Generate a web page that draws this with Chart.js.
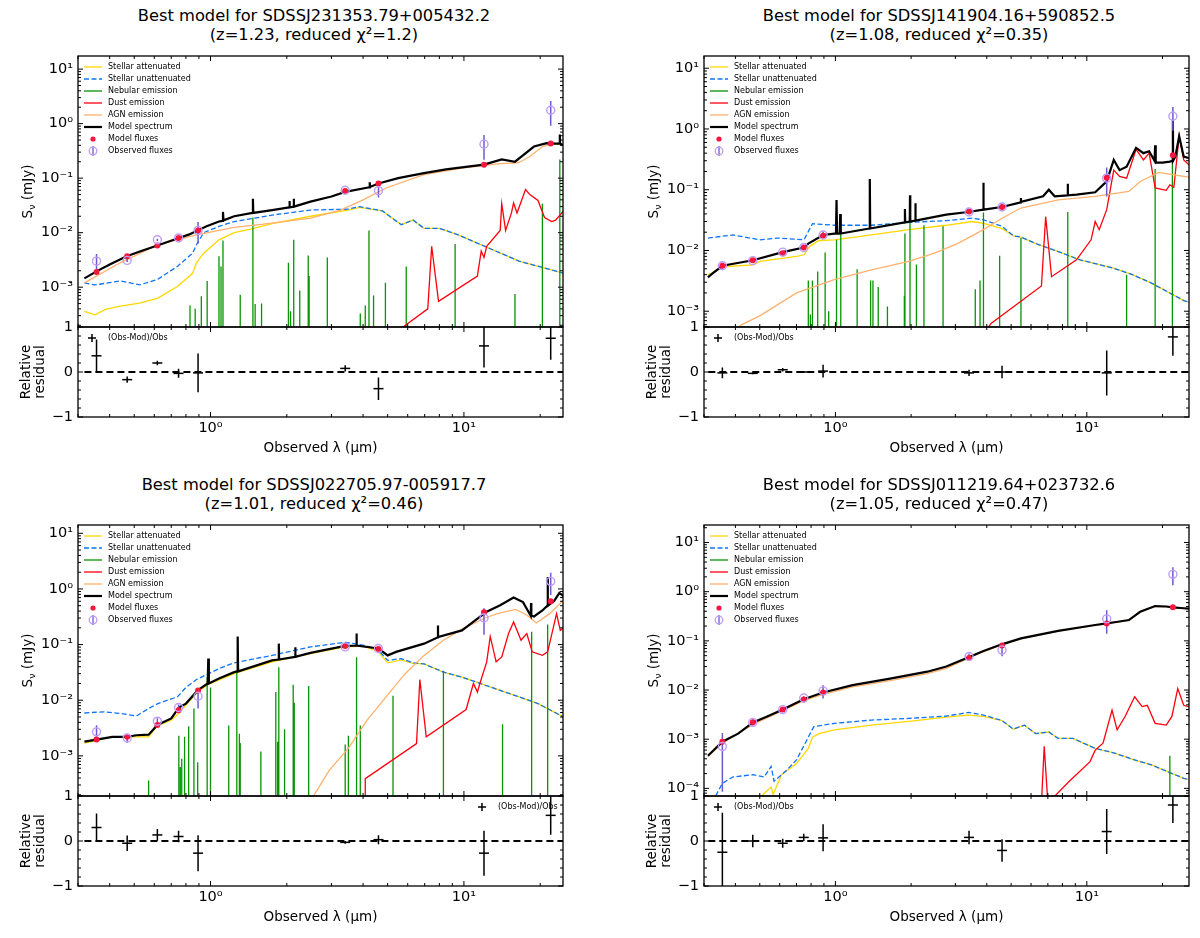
<!DOCTYPE html>
<html lang="en">
<head>
<meta charset="UTF-8" />
<title>Best-fit SEDs</title>
<script src="https://cdn.jsdelivr.net/npm/chart.js"></script>
<style>
  body { margin: 0; background: #fff; font-family: "DejaVu Sans", sans-serif; }
  #fig { position: relative; width: 1200px; height: 938px; overflow: hidden; background: #fff; }
  canvas { position: absolute; }
  .title { position: absolute; width: 600px; text-align: center; font-size: 16.3px; line-height: 18.5px; color: #000; white-space: nowrap; }
</style>
</head>
<body>
<div id="fig"></div>
<script>
// photometric bands (micron): u g r i z W1 W2 W3 W4
const bandLam = [0.355, 0.469, 0.617, 0.748, 0.893, 3.4, 4.6, 12, 22];
const componentLabels = ['Stellar attenuated', 'Stellar unattenuated', 'Nebular emission', 'Dust emission',
  'AGN emission', 'Model spectrum', 'Model fluxes', 'Observed fluxes'];

// ---- A: top left ----
const A_title = ['Best model for SDSSJ231353.79+005432.2', '(z=1.23, reduced χ²=1.2)'];
const A_xLim = [0.318, 24.6];
const A_yLim = [1.86e-4, 17.4];
const A_obs = [3.0e-3, 3.1e-3, 7.4e-3, 8.0e-3, 1.1e-2, 0.060, 0.059, 0.42, 1.76];
const A_mod = [1.9e-3, 3.7e-3, 5.8e-3, 8.0e-3, 1.1e-2, 0.058, 0.080, 0.177, 0.43];
const A_res = [0.36, -0.17, 0.20, -0.03, -0.02, 0.08, -0.37, 0.58, 0.75];
const A_relErr = [0.36, 0.07, 0.05, 0.10, 0.43, 0.07, 0.25, 0.48, 0.48];
const A_attenuated = [[0.318,3.6e-4],[0.35,3.1e-4],[0.385,3.9e-4],[0.44,4.5e-4],[0.525,5.1e-4],[0.62,6.3e-4],[0.74,1.03e-3],[0.85,1.8e-3],[0.88,2.8e-3],[0.94,4.2e-3],[1.08,7.4e-3],[1.24,1.0e-2],[1.48,1.2e-2],[1.75,1.46e-2],[2.48,2.0e-2],[3.49,2.6e-2],[3.88,2.9e-2],[4.77,2.5e-2],[5.66,1.4e-2],[6.3,1.7e-2],[6.96,1.2e-2],[8.0,1.2e-2],[9.5,9.1e-3],[12.1,5.6e-3],[16.5,3.0e-3],[21.2,2.2e-3],[24.7,1.8e-3]];
const A_unattenuated = [[0.318,1.2e-3],[0.35,1.1e-3],[0.44,1.3e-3],[0.525,1.1e-3],[0.62,1.4e-3],[0.74,2.4e-3],[0.85,4.2e-3],[0.88,6.0e-3],[0.94,1.0e-2],[1.08,1.3e-2],[1.24,1.6e-2],[1.75,2.1e-2],[2.48,2.6e-2],[3.49,2.7e-2],[3.88,3.0e-2],[4.77,2.5e-2],[5.66,1.4e-2],[6.3,1.7e-2],[6.96,1.2e-2],[8.0,1.2e-2],[9.5,9.1e-3],[12.1,5.6e-3],[16.5,3.0e-3],[21.2,2.2e-3],[24.7,1.8e-3]];
const A_nebular = [[0.83,4.6e-4],[0.87,4.0e-4],[0.92,6.8e-4],[0.97,1.3e-3],[1.08,3.7e-3],[1.10,2.4e-3],[1.12,7.2e-3],[1.31,7.3e-4],[1.47,1.9e-2],[1.50,4.9e-4],[1.59,5.0e-4],[2.03,2.8e-3],[2.07,3.6e-4],[2.13,7.4e-3],[2.25,8.7e-4],[2.43,3.8e-3],[2.45,1.6e-3],[2.89,3.5e-3],[3.9,3.3e-4],[4.08,4.6e-4],[4.22,1.1e-2],[4.4,7.0e-4],[4.9,1.2e-3],[5.92,2.4e-3],[9.23,6.2e-3],[15.9,7.5e-4],[20.4,3.4e-2],[23.9,2.2e-1]];
const A_dust = [[5.4,1.5e-4],[7.2,4.0e-4],[7.46,5.6e-3],[7.94,5.5e-4],[11.3,1.6e-3],[11.7,4.6e-3],[12.0,3.5e-3],[12.3,5.6e-3],[13.9,1.1e-2],[14.1,3.4e-2],[14.6,1.1e-2],[15.4,2.3e-2],[15.7,3.5e-2],[16.2,2.3e-2],[17.5,6.2e-2],[18.2,5.0e-2],[19.6,3.9e-2],[20.8,1.9e-2],[22.2,1.6e-2],[23.0,1.7e-2],[24.7,2.5e-2]];
const A_agn = [[0.318,1.2e-3],[0.44,2.8e-3],[0.62,6.0e-3],[0.88,9.1e-3],[1.24,1.25e-2],[1.75,1.5e-2],[2.48,1.85e-2],[3.26,2.6e-2],[4.0,4.0e-2],[4.93,6.6e-2],[6.96,1.16e-1],[9.82,1.53e-1],[13.9,1.85e-1],[16.4,1.9e-1],[18.2,2.5e-1],[20.4,3.8e-1],[22.5,4.4e-1],[24.7,4.0e-1]];
const A_model = [[0.318,1.45e-3],[0.355,1.95e-3],[0.40,2.6e-3],[0.467,3.7e-3],[0.54,4.7e-3],[0.617,5.8e-3],[0.75,8.0e-3],[0.82,9.2e-3],[0.89,1.1e-2],[0.96,1.3e-2],[1.08,1.6e-2],[1.115,1.65e-2],[1.12,2.4e-2],[1.125,1.68e-2],[1.24,2.0e-2],[1.465,2.3e-2],[1.47,4.2e-2],[1.475,2.3e-2],[1.75,2.6e-2],[2.045,2.9e-2],[2.05,3.8e-2],[2.055,2.9e-2],[2.125,3.0e-2],[2.13,4.2e-2],[2.135,3.0e-2],[2.48,3.7e-2],[3.0,4.6e-2],[3.4,5.6e-2],[4.24,6.8e-2],[4.25,8.4e-2],[4.26,6.9e-2],[4.6,8.0e-2],[5.5,1.0e-1],[6.96,1.24e-1],[8.5,1.45e-1],[9.82,1.58e-1],[12,1.77e-1],[14.1,2.2e-1],[15.9,2.0e-1],[16.9,2.5e-1],[18.9,3.8e-1],[21.2,4.4e-1],[22.7,4.3e-1],[23.85,4.35e-1],[23.9,6.3e-1],[23.95,4.3e-1],[24.7,4.0e-1]];

// ---- B: top right ----
const B_title = ['Best model for SDSSJ141904.16+590852.5', '(z=1.08, reduced χ²=0.35)'];
const B_xLim = [0.312, 25.5];
const B_yLim = [5.5e-4, 15.9];
const B_obs = [5.6e-3, 6.8e-3, 9.4e-3, 1.12e-2, 1.8e-2, 0.043, 0.052, 0.155, 1.62];
const B_mod = [5.6e-3, 6.9e-3, 9.0e-3, 1.12e-2, 1.75e-2, 0.044, 0.052, 0.157, 0.37];
const B_res = [-0.02, -0.03, 0.05, 0.0, 0.02, -0.02, 0.0, -0.02, 0.78];
const B_relErr = [0.12, 0.02, 0.04, 0.02, 0.14, 0.07, 0.14, 0.5, 0.42];
const B_attenuated = [[0.311,4.0e-3],[0.32,4.2e-3],[0.355,5.4e-3],[0.47,5.8e-3],[0.5,6.6e-3],[0.70,8.0e-3],[0.75,8.5e-3],[0.79,1.17e-2],[0.86,1.46e-2],[0.99,1.5e-2],[1.39,1.8e-2],[1.96,2.2e-2],[2.76,2.6e-2],[3.5,3.0e-2],[3.88,2.8e-2],[4.6,2.3e-2],[5.1,1.74e-2],[5.47,1.66e-2],[6.26,1.3e-2],[7.7,9.6e-3],[9.4,7.0e-3],[12.8,5.1e-3],[15.2,4.0e-3],[18.1,2.9e-3],[24.3,1.5e-3],[25.7,1.4e-3]];
const B_unattenuated = [[0.311,1.6e-2],[0.39,1.8e-2],[0.5,1.5e-2],[0.59,1.6e-2],[0.75,1.5e-2],[0.81,2.75e-2],[0.99,2.6e-2],[1.39,2.6e-2],[1.96,2.9e-2],[2.76,3.1e-2],[3.5,3.4e-2],[3.88,3.2e-2],[4.6,2.5e-2],[5.1,1.74e-2],[5.47,1.66e-2],[6.26,1.3e-2],[7.7,9.6e-3],[9.4,7.0e-3],[12.8,5.1e-3],[15.2,4.0e-3],[18.1,2.9e-3],[24.3,1.5e-3],[25.7,1.4e-3]];
const B_nebular = [[0.78,3.2e-3],[0.795,8.8e-4],[0.81,3.2e-3],[0.85,4.5e-3],[0.91,9.3e-3],[0.94,1.0e-3],[1.01,1.5e-2],[1.05,2.2e-2],[1.22,4.9e-3],[1.38,3.2e-3],[1.41,3.2e-3],[1.48,2.5e-3],[1.61,1.2e-3],[1.88,1.8e-3],[1.89,1.9e-2],[1.98,2.9e-2],[2.1,5.9e-3],[2.25,2.6e-2],[2.68,2.5e-2],[3.6,2.3e-3],[3.76,3.2e-3],[3.88,4.2e-2],[4.5,8.2e-3],[5.47,1.6e-2],[8.4,4.3e-2],[14.4,4.0e-3],[18.7,2.2e-1],[21.9,3.5e-1]];
const B_dust = [[4.0,5.0e-4],[4.16,6.3e-4],[6.6,2.6e-3],[6.86,3.6e-2],[7.24,3.7e-3],[9.1,7.0e-3],[10.4,1.5e-2],[10.8,3.0e-2],[11.2,2.2e-2],[12,4.7e-2],[12.8,2.1e-1],[13.5,1.66e-1],[14.4,1.55e-1],[15.7,4.6e-1],[16.8,3.1e-1],[17.7,4.0e-1],[18.7,1.07e-1],[20.7,9.8e-2],[21.4,1.2e-1],[22.2,1.1e-1],[23.3,7.6e-1],[24.3,3.1e-1],[25.7,2.5e-1]];
const B_agn = [[0.40,4.8e-4],[0.42,5.9e-4],[0.5,8.4e-4],[0.70,2.0e-3],[0.99,3.3e-3],[1.39,4.8e-3],[1.96,6.6e-3],[2.49,9.1e-3],[3.06,1.3e-2],[3.88,2.2e-2],[4.6,3.4e-2],[5.47,5.0e-2],[7.7,6.8e-2],[10.8,7.8e-2],[14.7,9.4e-2],[16.3,1.37e-1],[19.3,1.93e-1],[24.3,1.66e-1],[25.7,1.6e-1]];
const B_model = [[0.311,3.6e-3],[0.32,4.0e-3],[0.355,5.6e-3],[0.47,6.9e-3],[0.617,9.4e-3],[0.748,1.12e-2],[0.78,1.3e-2],[0.893,1.8e-2],[0.99,1.9e-2],[1.005,1.9e-2],[1.01,6.8e-2],[1.015,1.9e-2],[1.04,1.9e-2],[1.045,4.0e-2],[1.05,1.9e-2],[1.365,2.3e-2],[1.37,1.5e-1],[1.375,2.3e-2],[1.885,2.9e-2],[1.89,4.8e-2],[1.895,2.9e-2],[1.975,3.0e-2],[1.98,8.1e-2],[1.985,3.0e-2],[2.075,3.1e-2],[2.08,6.0e-2],[2.085,3.1e-2],[2.76,3.9e-2],[3.37,4.3e-2],[3.875,4.7e-2],[3.88,1.3e-1],[3.885,4.7e-2],[4.59,5.2e-2],[5.46,6.2e-2],[5.47,7.3e-2],[5.48,6.3e-2],[6.7,7.8e-2],[7.06,1.0e-1],[7.45,7.8e-2],[8.39,8.1e-2],[8.4,1.26e-1],[8.41,8.1e-2],[9.1,8.3e-2],[10.8,9.1e-2],[12,1.37e-1],[12.8,3.1e-1],[13.5,2.1e-1],[14.4,2.4e-1],[15.7,4.9e-1],[16.8,4.0e-1],[17.7,4.3e-1],[18.6,3.0e-1],[18.7,5.4e-1],[18.8,2.8e-1],[20,2.8e-1],[21.4,2.9e-1],[21.95,3.0e-1],[22.0,1.4],[22.05,3.0e-1],[22.5,3.5e-1],[23.3,7.6e-1],[24.3,3.5e-1],[25.7,3.3e-1]];

// ---- C: bottom left ----
const C_title = ['Best model for SDSSJ022705.97-005917.7', '(z=1.01, reduced χ²=0.46)'];
const C_xLim = [0.318, 24.6];
const C_yLim = [1.9e-4, 14.1];
const C_obs = [2.7e-3, 2.1e-3, 4.2e-3, 7.4e-3, 1.18e-2, 0.091, 0.085, 0.30, 1.37];
const C_mod = [1.96e-3, 2.2e-3, 3.6e-3, 6.6e-3, 1.5e-2, 0.094, 0.083, 0.38, 0.60];
const C_res = [0.30, -0.05, 0.135, 0.10, -0.27, -0.03, 0.03, -0.27, 0.57];
const C_relErr = [0.31, 0.17, 0.13, 0.13, 0.40, 0.03, 0.10, 0.50, 0.43];
const C_attenuated = [[0.318,1.7e-3],[0.41,2.2e-3],[0.51,2.2e-3],[0.57,2.2e-3],[0.617,3.5e-3],[0.70,4.4e-3],[0.75,5.8e-3],[0.80,8.2e-3],[0.89,1.4e-2],[0.975,1.9e-2],[1.24,3.0e-2],[1.75,4.9e-2],[2.48,6.9e-2],[3.4,9.1e-2],[4.05,9.4e-2],[4.6,7.4e-2],[5.0,4.7e-2],[5.66,5.3e-2],[6.3,4.6e-2],[6.96,4.5e-2],[8.3,3.2e-2],[9.82,2.6e-2],[11.6,2.0e-2],[13.9,1.5e-2],[16.5,1.15e-2],[19.6,8.7e-3],[24.7,5.0e-3]];
const C_unattenuated = [[0.318,5.9e-3],[0.38,6.2e-3],[0.44,5.8e-3],[0.51,5.2e-3],[0.57,7.1e-3],[0.62,8.7e-3],[0.74,1.15e-2],[0.80,1.7e-2],[0.88,2.35e-2],[1.08,3.7e-2],[1.24,4.7e-2],[1.75,6.4e-2],[2.48,9.1e-2],[3.4,1.1e-1],[4.05,9.7e-2],[4.6,7.9e-2],[5.0,5.2e-2],[5.66,5.6e-2],[6.3,4.7e-2],[6.96,4.5e-2],[8.3,3.2e-2],[9.82,2.6e-2],[11.6,2.0e-2],[13.9,1.5e-2],[16.5,1.15e-2],[19.6,8.7e-3],[24.7,5.0e-3]];
const C_nebular = [[0.57,3.6e-4],[0.75,2.3e-3],[0.76,6.3e-4],[0.77,8.9e-4],[0.79,2.2e-3],[0.82,3.4e-3],[0.86,7.1e-3],[0.89,7.7e-4],[0.97,2.6e-2],[1.0,1.7e-2],[1.18,3.5e-3],[1.27,3.5e-2],[1.30,2.5e-3],[1.31,1.7e-3],[1.58,1.2e-3],[1.81,1.4e-2],[1.84,1.8e-3],[1.86,3.9e-2],[1.96,3.0e-3],[2.12,1.9e-2],[2.14,9e-3],[2.44,1.8e-2],[3.4,1.6e-3],[3.5,2.3e-3],[3.77,5.9e-2],[3.9,3.5e-3],[5.25,1.2e-2],[8.3,3.4e-2],[14.2,3.7e-3],[18.5,1.7e-1],[21.4,2.3e-1]];
const C_dust = [[4.08,1.5e-4],[4.08,3.9e-4],[6.5,1.66e-3],[6.7,2.35e-2],[7.1,2.2e-3],[10.2,6.8e-3],[10.9,2.0e-2],[11.3,1.4e-2],[11.6,2.1e-2],[12.3,4.9e-2],[12.7,1.4e-1],[13.4,4.9e-2],[14.1,6.0e-2],[15.0,1.58e-1],[15.7,2.55e-1],[16.8,1.2e-1],[17.7,1.58e-1],[18.6,7.4e-2],[20.4,6.4e-2],[21.4,7.4e-2],[23.2,3.6e-1],[24.0,1.8e-1],[24.7,2.0e-1]];
const C_agn = [[2.4,1.5e-4],[2.56,1.96e-4],[2.94,5.5e-4],[3.49,1.35e-3],[4.15,4.4e-3],[4.93,1.15e-2],[5.86,3.0e-2],[6.96,6.4e-2],[8.3,1.2e-1],[9.82,1.9e-1],[12.3,3.1e-1],[13.9,3.7e-1],[16.0,4.3e-1],[17.7,3.4e-1],[19.3,2.45e-1],[21.8,3.6e-1],[24.7,6.3e-1]];
const C_model = [[0.318,1.8e-3],[0.355,1.96e-3],[0.41,2.2e-3],[0.467,2.2e-3],[0.51,2.35e-3],[0.57,2.4e-3],[0.617,3.6e-3],[0.70,4.7e-3],[0.75,7.4e-3],[0.80,8.7e-3],[0.89,1.5e-2],[0.975,2.0e-2],[0.98,5.6e-2],[0.985,2.0e-2],[1.08,2.45e-2],[1.24,3.2e-2],[1.275,3.3e-2],[1.28,1.4e-1],[1.285,3.3e-2],[1.75,5.2e-2],[1.855,5.4e-2],[1.86,1.04e-1],[1.865,5.4e-2],[2.155,6.0e-2],[2.16,9.0e-2],[2.165,6.0e-2],[2.48,7.1e-2],[3.4,9.5e-2],[3.765,9.6e-2],[3.77,1.58e-1],[3.775,9.6e-2],[4.6,8.5e-2],[5.0,6.4e-2],[5.4,7.4e-2],[6.96,1.04e-1],[7.895,1.35e-1],[7.9,2.2e-1],[7.905,1.36e-1],[9.82,1.8e-1],[12.3,3.9e-1],[13.9,5.1e-1],[15.7,7.0e-1],[17.1,5.8e-1],[18.35,3.3e-1],[18.4,5.6e-1],[18.45,3.3e-1],[18.9,3.2e-1],[20.4,4.1e-1],[21.35,5.0e-1],[21.4,1.64],[21.45,5.0e-1],[22.7,6.1e-1],[23.8,8.5e-1],[24.7,7.4e-1]];

// ---- D: bottom right ----
const D_title = ['Best model for SDSSJ011219.64+023732.6', '(z=1.05, reduced χ²=0.47)'];
const D_xLim = [0.312, 25.5];
const D_yLim = [7.1e-5, 22.7];
const D_obs = [7.1e-4, 2.2e-3, 4.0e-3, 6.9e-3, 9.6e-3, 0.048, 0.065, 0.28, 2.25];
const D_mod = [8.9e-4, 2.2e-3, 4.0e-3, 6.4e-3, 8.9e-3, 0.045, 0.080, 0.225, 0.48];
const D_res = [-0.25, 0.0, -0.05, 0.08, 0.07, 0.08, -0.21, 0.21, 0.8];
const D_relErr = [0.88, 0.14, 0.10, 0.08, 0.30, 0.15, 0.25, 0.50, 0.40];
const D_attenuated = [[0.50,5e-5],[0.51,7.1e-5],[0.555,1.07e-4],[0.565,7.5e-5],[0.61,1.9e-4],[0.70,3.2e-4],[0.78,6.5e-4],[0.81,1.1e-3],[0.86,1.3e-3],[0.99,1.55e-3],[1.39,1.94e-3],[1.96,2.3e-3],[2.76,2.8e-3],[3.38,3.1e-3],[3.88,2.9e-3],[4.6,2.4e-3],[5.1,1.6e-3],[5.65,1.93e-3],[6.26,1.3e-3],[7.06,1.4e-3],[7.69,1.04e-3],[8.8,1.04e-3],[10.8,6.5e-4],[12.8,5.3e-4],[15.2,3.9e-4],[18.1,3.0e-4],[24.3,1.6e-4],[25.7,1.5e-4]];
const D_unattenuated = [[0.33,5e-5],[0.335,7.3e-5],[0.355,1.26e-4],[0.39,1.7e-4],[0.47,1.9e-4],[0.52,1.7e-4],[0.555,2.8e-4],[0.57,1.4e-4],[0.64,2.35e-4],[0.70,3.8e-4],[0.78,1.1e-3],[0.82,1.8e-3],[0.99,2.1e-3],[1.39,2.45e-3],[1.96,2.65e-3],[2.76,2.95e-3],[3.38,3.5e-3],[3.88,3.1e-3],[4.6,2.4e-3],[5.1,1.6e-3],[5.65,1.93e-3],[6.26,1.3e-3],[7.06,1.4e-3],[7.69,1.04e-3],[8.8,1.04e-3],[10.8,6.5e-4],[12.8,5.3e-4],[15.2,3.9e-4],[18.1,3.0e-4],[24.3,1.6e-4],[25.7,1.5e-4]];
const D_nebular = [[21.4,4.6e-4]];
const D_dust = [[6.6,5e-5],[6.77,7.2e-4],[7.0,5e-5],[8.5,1.38e-4],[10.3,3.5e-4],[10.8,6e-4],[11.6,8.3e-4],[12.6,3.9e-3],[13.2,1.55e-3],[14.2,2.9e-3],[15.5,7.3e-3],[16.6,4.6e-3],[17.4,4.9e-3],[18.7,2.1e-3],[20.7,1.93e-3],[21.8,2.9e-3],[23.0,1.07e-2],[24.3,4.9e-3],[25.7,4.5e-3]];
const D_agn = [[0.311,4.4e-4],[0.32,5.1e-4],[0.355,8.4e-4],[0.47,2.0e-3],[0.617,3.8e-3],[0.748,6.1e-3],[0.893,8.2e-3],[1.17,1.16e-2],[1.65,1.56e-2],[2.32,2.15e-2],[2.76,2.75e-2],[3.37,4.4e-2],[3.88,6.0e-2],[4.59,8.3e-2],[5.47,1.1e-1],[7.69,1.58e-1],[10.8,2.08e-1],[12,2.25e-1],[13.3,2.43e-1],[14.7,2.62e-1],[16.3,3.85e-1],[18.7,5.0e-1],[20.7,4.95e-1],[22,4.75e-1],[24.3,4.55e-1],[25.7,4.45e-1]];
const D_model = [[0.311,4.6e-4],[0.32,5.3e-4],[0.355,8.9e-4],[0.41,1.3e-3],[0.47,2.2e-3],[0.535,2.9e-3],[0.617,4.0e-3],[0.748,6.5e-3],[0.893,8.9e-3],[1.17,1.26e-2],[1.65,1.7e-2],[2.32,2.36e-2],[2.76,3.0e-2],[3.37,4.6e-2],[3.88,6.2e-2],[4.59,8.5e-2],[5.47,1.12e-1],[7.69,1.6e-1],[10.8,2.1e-1],[12,2.27e-1],[13.3,2.45e-1],[14.7,2.65e-1],[16.3,3.9e-1],[18.7,5.1e-1],[20.7,5.0e-1],[22,4.8e-1],[24.3,4.6e-1],[25.7,4.5e-1]];

const FLOOR = 1e-9;
const COL = { att: '#ffd700', unatt: '#0d75f8', neb: '#089404', dust: '#ff000d', agn: '#ffb16d',
  model: '#000000', modFlux: '#f5173d', obs: '#bf9cf7', obsBar: '#6d5acf' };

const xy = pairs => pairs.map(([x, y]) => ({ x, y }));
const pts = (lam, val) => lam.map((x, i) => ({ x, y: val[i] }));
const spikes = lines => lines.flatMap(([x, y]) => [{ x, y: FLOOR }, { x, y }, { x, y: null }]);
const fluxBars = (lam, val, rel) => lam.flatMap((x, i) => [
  { x, y: Math.max(val[i] * (1 - rel[i]), FLOOR) }, { x, y: val[i] * (1 + rel[i]) }, { x, y: null }]);
const resBars = (lam, res, rel) => lam.flatMap((x, i) => [
  { x, y: res[i] - rel[i] }, { x, y: res[i] + rel[i] }, { x, y: null }]);

const panelData = {
  A: { title: A_title, xLim: A_xLim, yLim: A_yLim, obs: A_obs, mod: A_mod, res: A_res, err: A_relErr,
       att: A_attenuated, unatt: A_unattenuated, neb: A_nebular, dust: A_dust, agn: A_agn, model: A_model },
  B: { title: B_title, xLim: B_xLim, yLim: B_yLim, obs: B_obs, mod: B_mod, res: B_res, err: B_relErr,
       att: B_attenuated, unatt: B_unattenuated, neb: B_nebular, dust: B_dust, agn: B_agn, model: B_model },
  C: { title: C_title, xLim: C_xLim, yLim: C_yLim, obs: C_obs, mod: C_mod, res: C_res, err: C_relErr,
       att: C_attenuated, unatt: C_unattenuated, neb: C_nebular, dust: C_dust, agn: C_agn, model: C_model },
  D: { title: D_title, xLim: D_xLim, yLim: D_yLim, obs: D_obs, mod: D_mod, res: D_res, err: D_relErr,
       att: D_attenuated, unatt: D_unattenuated, neb: D_nebular, dust: D_dust, agn: D_agn, model: D_model }
};

// page placement of each panel (plot area corners)
const layout = [
  { key: 'A', left: 78, top: 56, titleX: 314, titleTop: 7, resLegend: 'left' },
  { key: 'B', left: 704, top: 56, titleX: 939, titleTop: 7, resLegend: 'left' },
  { key: 'C', left: 78, top: 525, titleX: 314, titleTop: 476, resLegend: 'right' },
  { key: 'D', left: 704, top: 525, titleX: 939, titleTop: 476, resLegend: 'left' }
];
const PLOT_W = 485, MAIN_H = 271, RES_H = 90, AXIS_W = 78, PAD = 16, XAXIS_H = 45;
const FONT = '"DejaVu Sans", sans-serif';

const SUP = { '-': '⁻', '0': '⁰', '1': '¹', '2': '²', '3': '³', '4': '⁴', '5': '⁵', '6': '⁶', '7': '⁷', '8': '⁸', '9': '⁹' };
const decadeLabel = v => '10' + String(Math.round(Math.log10(v))).split('').map(c => SUP[c]).join('');
const decades = (min, max) => {
  const out = [];
  for (let e = Math.ceil(Math.log10(min) - 1e-9); e <= Math.floor(Math.log10(max) + 1e-9); e++) out.push({ value: Math.pow(10, e) });
  return out;
};
function logMinor(min, max) {
  const out = [];
  for (let e = Math.floor(Math.log10(min)); e <= Math.ceil(Math.log10(max)); e++)
    for (let m = 1; m < 10; m++) {
      const v = m * Math.pow(10, e);
      if (v >= min && v <= max) out.push({ v, major: m === 1 });
    }
  return out;
}
function linMinor(min, max) {
  const out = [];
  for (let k = Math.round(min * 5); k <= Math.round(max * 5); k++) out.push({ v: k / 5, major: k % 5 === 0 });
  return out;
}

// inward ticks, frame, legends and the S_nu label
const sedDeco = {
  id: 'sedDeco',
  afterDraw(chart, args, o) {
    const { ctx, chartArea: a, scales } = chart;
    const xs = scales.x, ys = scales.y;
    ctx.save();
    ctx.strokeStyle = '#000';
    ctx.lineWidth = 1;
    ctx.setLineDash([]);
    ctx.beginPath();
    for (const t of logMinor(xs.min, xs.max)) {
      const p = xs.getPixelForValue(t.v), L = t.major ? 5 : 3;
      ctx.moveTo(p, a.bottom); ctx.lineTo(p, a.bottom - L);
      ctx.moveTo(p, a.top); ctx.lineTo(p, a.top + L);
    }
    const yt = ys.type === 'logarithmic' ? logMinor(ys.min, ys.max) : linMinor(ys.min, ys.max);
    for (const t of yt) {
      const p = ys.getPixelForValue(t.v), L = t.major ? 5 : 3;
      ctx.moveTo(a.left, p); ctx.lineTo(a.left + L, p);
      ctx.moveTo(a.right, p); ctx.lineTo(a.right - L, p);
    }
    ctx.stroke();
    ctx.lineWidth = 1.3;
    ctx.strokeRect(a.left, a.top, a.right - a.left, a.bottom - a.top);

    ctx.font = '8px ' + FONT;
    ctx.textBaseline = 'middle';
    ctx.textAlign = 'left';
    if (o.legend) {
      chart.data.datasets.filter(d => d.label).forEach((d, i) => {
        const y = a.top + 11 + i * 12, x0 = a.left + 6;
        ctx.save();
        if (d.legendKind === 'dot') {
          ctx.fillStyle = d.pointBackgroundColor;
          ctx.beginPath(); ctx.arc(x0 + 9, y, 2.6, 0, 2 * Math.PI); ctx.fill();
        } else if (d.legendKind === 'obs') {
          ctx.strokeStyle = COL.obsBar; ctx.lineWidth = 1.3;
          ctx.beginPath(); ctx.moveTo(x0 + 9, y - 5); ctx.lineTo(x0 + 9, y + 5); ctx.stroke();
          ctx.strokeStyle = d.pointBorderColor;
          ctx.beginPath(); ctx.arc(x0 + 9, y, 3.8, 0, 2 * Math.PI); ctx.stroke();
        } else {
          ctx.strokeStyle = d.borderColor; ctx.lineWidth = d.borderWidth;
          ctx.setLineDash(d.borderDash || []);
          ctx.beginPath(); ctx.moveTo(x0, y); ctx.lineTo(x0 + 18, y); ctx.stroke();
        }
        ctx.restore();
        ctx.fillStyle = '#000';
        ctx.fillText(d.label, a.left + 30, y);
      });
    }
    if (o.resLegend) {
      const x0 = o.resLegend === 'left' ? a.left + 14 : a.right - 81, y = a.top + 11;
      ctx.lineWidth = 1.5;
      ctx.beginPath();
      ctx.moveTo(x0 - 4, y); ctx.lineTo(x0 + 4, y);
      ctx.moveTo(x0, y - 4); ctx.lineTo(x0, y + 4);
      ctx.stroke();
      ctx.fillStyle = '#000';
      ctx.fillText('(Obs-Mod)/Obs', x0 + 16, y);
    }
    if (o.yLabel) {
      ctx.translate(a.left - 51, (a.top + a.bottom) / 2);
      ctx.rotate(-Math.PI / 2);
      const big = '13.5px ' + FONT, small = '9.5px ' + FONT;
      ctx.font = big; const wS = ctx.measureText('S').width, wR = ctx.measureText(' (mJy)').width;
      ctx.font = small; const wN = ctx.measureText('ν').width;
      let sx = -(wS + wN + wR) / 2;
      ctx.textBaseline = 'alphabetic';
      ctx.fillStyle = '#000';
      ctx.font = big; ctx.fillText('S', sx, 5); sx += wS;
      ctx.font = small; ctx.fillText('ν', sx, 8); sx += wN;
      ctx.font = big; ctx.fillText(' (mJy)', sx, 5);
    }
    ctx.restore();
  }
};

const tickFont = { family: FONT, size: 14.5 };
const fig = document.getElementById('fig');

function addCanvas(x, y, w, h) {
  const c = document.createElement('canvas');
  c.width = w; c.height = h;
  c.style.left = x + 'px'; c.style.top = y + 'px';
  c.style.width = w + 'px'; c.style.height = h + 'px';
  fig.appendChild(c);
  return c;
}

function logX(xLim, showLabels, height) {
  return {
    type: 'logarithmic', min: xLim[0], max: xLim[1],
    grid: { display: false, drawTicks: false }, border: { display: false },
    afterBuildTicks: s => { s.ticks = decades(xLim[0], xLim[1]); },
    afterFit: s => { s.height = height; },
    ticks: { display: showLabels, autoSkip: false, maxRotation: 0, padding: 3, color: '#000', font: tickFont,
             callback: v => decadeLabel(v) },
    title: showLabels ? { display: true, text: 'Observed λ (μm)', color: '#000',
             font: { family: FONT, size: 13.5, lineHeight: 1.2 }, padding: { top: 0, bottom: 5.6 } } : { display: false }
  };
}

layout.forEach(L => {
  const p = panelData[L.key];

  const t = document.createElement('div');
  t.className = 'title';
  t.style.left = (L.titleX - 300) + 'px';
  t.style.top = L.titleTop + 'px';
  p.title.forEach(line => { const d = document.createElement('div'); d.textContent = line; t.appendChild(d); });
  fig.appendChild(t);

  // main SED panel
  const mc = addCanvas(L.left - AXIS_W, L.top - PAD, AXIS_W + PLOT_W + 8, MAIN_H + 2 * PAD);
  new Chart(mc, {
    type: 'line',
    data: { datasets: [
      { label: componentLabels[0], data: xy(p.att), borderColor: COL.att, borderWidth: 1.3, order: 8, legendKind: 'line' },
      { label: componentLabels[1], data: xy(p.unatt), borderColor: COL.unatt, borderWidth: 1.3, borderDash: [5, 2.5], order: 7, legendKind: 'line' },
      { label: componentLabels[2], data: spikes(p.neb), borderColor: COL.neb, borderWidth: 1.3, order: 6, legendKind: 'line' },
      { label: componentLabels[3], data: xy(p.dust), borderColor: COL.dust, borderWidth: 1.3, order: 5, legendKind: 'line' },
      { label: componentLabels[4], data: xy(p.agn), borderColor: COL.agn, borderWidth: 1.3, order: 4, legendKind: 'line' },
      { label: componentLabels[5], data: xy(p.model), borderColor: COL.model, borderWidth: 2.2, order: 3, legendKind: 'line' },
      { label: componentLabels[6], data: pts(bandLam, p.mod), showLine: false, pointRadius: 3,
        pointBackgroundColor: COL.modFlux, pointBorderWidth: 0, order: 1, legendKind: 'dot' },
      { data: fluxBars(bandLam, p.obs, p.err), borderColor: COL.obsBar, borderWidth: 1.5, order: 2 },
      { label: componentLabels[7], data: pts(bandLam, p.obs), showLine: false, pointRadius: 4,
        pointBorderColor: COL.obs, pointBackgroundColor: 'rgba(0,0,0,0)', pointBorderWidth: 1.4, order: 0, legendKind: 'obs' }
    ] },
    options: {
      responsive: false, animation: false, events: [],
      layout: { padding: { left: 0, right: 8, top: PAD, bottom: PAD } },
      elements: { point: { radius: 0 }, line: { tension: 0 } },
      plugins: { legend: { display: false }, tooltip: { enabled: false }, sedDeco: { legend: true, yLabel: true } },
      scales: {
        x: logX(p.xLim, false, 0),
        y: {
          type: 'logarithmic', min: p.yLim[0], max: p.yLim[1],
          grid: { display: false, drawTicks: false }, border: { display: false },
          afterBuildTicks: s => { s.ticks = decades(p.yLim[0], p.yLim[1]); },
          afterFit: s => { s.width = AXIS_W; },
          ticks: { autoSkip: false, padding: 5, color: '#000', font: tickFont, callback: v => decadeLabel(v) }
        }
      }
    },
    plugins: [sedDeco]
  });

  // residual panel
  const resTop = L.top + MAIN_H;
  const rc = addCanvas(L.left - AXIS_W, resTop - PAD, AXIS_W + PLOT_W + 8, PAD + RES_H + XAXIS_H);
  new Chart(rc, {
    type: 'line',
    data: { datasets: [
      { data: [{ x: p.xLim[0], y: 0 }, { x: p.xLim[1], y: 0 }], borderColor: '#000', borderWidth: 2, borderDash: [7, 4], order: 2 },
      { data: resBars(bandLam, p.res, p.err), borderColor: '#000', borderWidth: 1.5, order: 1 },
      { data: pts(bandLam, p.res), showLine: false, pointStyle: 'line', pointRadius: 5,
        pointBorderColor: '#000', pointBorderWidth: 1.5, order: 0 }
    ] },
    options: {
      responsive: false, animation: false, events: [],
      layout: { padding: { left: 0, right: 8, top: PAD, bottom: 0 } },
      elements: { point: { radius: 0 }, line: { tension: 0 } },
      plugins: { legend: { display: false }, tooltip: { enabled: false }, sedDeco: { resLegend: L.resLegend } },
      scales: {
        x: logX(p.xLim, true, XAXIS_H),
        y: {
          type: 'linear', min: -1, max: 1,
          grid: { display: false, drawTicks: false }, border: { display: false },
          afterBuildTicks: s => { s.ticks = [{ value: -1 }, { value: 0 }, { value: 1 }]; },
          afterFit: s => { s.width = AXIS_W; },
          ticks: { autoSkip: false, padding: 5, color: '#000', font: tickFont,
                   callback: v => (v < 0 ? '−' + Math.abs(v) : String(v)) },
          title: { display: true, text: ['Relative', 'residual'], color: '#000',
                   font: { family: FONT, size: 13.5, lineHeight: 1.04 }, padding: { top: 19, bottom: 0 } }
        }
      }
    },
    plugins: [sedDeco]
  });
});
</script>
</body>
</html>
